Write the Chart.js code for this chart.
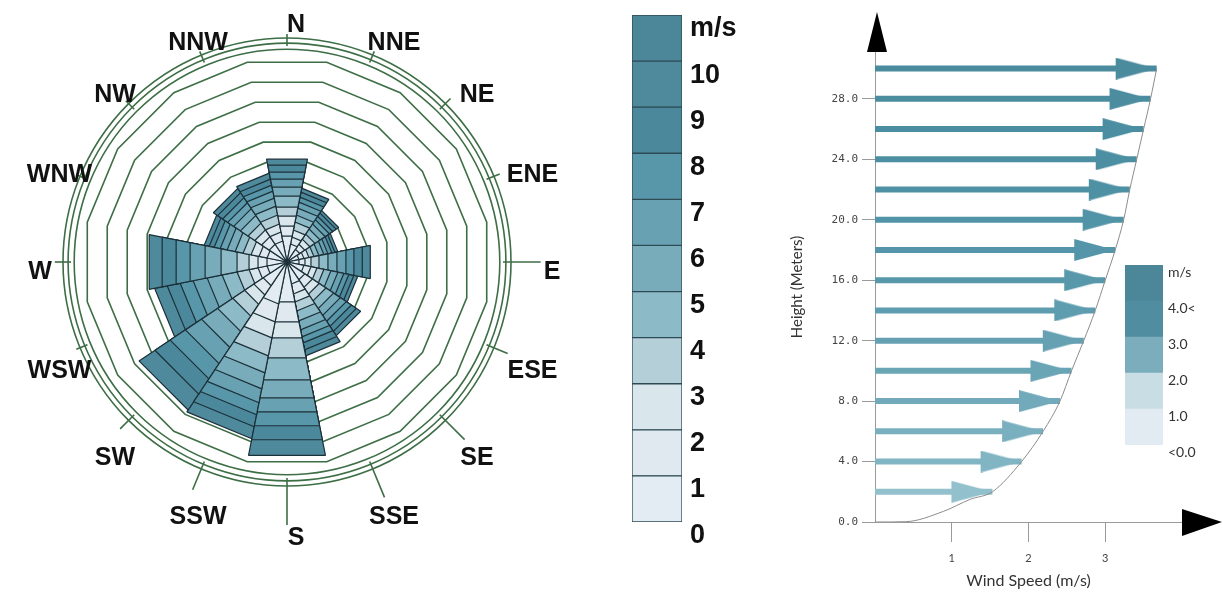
<!DOCTYPE html>
<html>
<head>
<meta charset="utf-8">
<script src="https://cdn.jsdelivr.net/npm/chart.js@4.4.1/dist/chart.umd.min.js"></script>
<style>
  html, body { margin: 0; padding: 0; background: #fff; }
  body { width: 1223px; height: 591px; position: relative; overflow: hidden; }
  canvas { position: absolute; }
  #rose { left: 0; top: 0; }
  #speedScale { left: 632px; top: 0; }
  #profile { left: 760px; top: 0; }
  #profileScale { left: 1125px; top: 250px; }
</style>
</head>
<body>
<canvas id="rose" width="610" height="591"></canvas>
<canvas id="speedScale" width="140" height="591"></canvas>
<canvas id="profile" width="463" height="591"></canvas>
<canvas id="profileScale" width="98" height="225"></canvas>

<script>
// ---------- data ----------
const directions = ['N', 'NNE', 'NE', 'ENE', 'E', 'ESE', 'SE', 'SSE',
                    'S', 'SSW', 'SW', 'WSW', 'W', 'WNW', 'NW', 'NNW'];

// share of each speed band per direction (ring units)
const band0to1  = [1.30, 0.90, 0.75, 0.60, 0.60, 0.85, 1.05, 1.10, 2.00, 2.10, 1.40, 1.00, 1.00, 1.00, 1.05, 1.05];
const band1to2  = [0.50, 0.35, 0.30, 0.25, 0.30, 0.35, 0.45, 0.50, 1.00, 0.90, 0.55, 0.45, 0.45, 0.40, 0.45, 0.45];
const band2to3  = [0.50, 0.35, 0.30, 0.25, 0.30, 0.30, 0.40, 0.40, 0.80, 0.80, 0.55, 0.45, 0.45, 0.40, 0.40, 0.40];
const band3to4  = [0.45, 0.40, 0.30, 0.25, 0.40, 0.35, 0.40, 0.45, 1.00, 0.90, 0.70, 0.60, 0.60, 0.40, 0.40, 0.45];
const band4to5  = [0.55, 0.35, 0.30, 0.25, 0.45, 0.35, 0.45, 0.50, 1.10, 0.85, 0.90, 0.75, 0.80, 0.40, 0.45, 0.45];
const band5to6  = [0.45, 0.35, 0.30, 0.25, 0.45, 0.35, 0.40, 0.45, 0.90, 0.80, 0.95, 0.75, 0.80, 0.40, 0.40, 0.40];
const band6to7  = [0.40, 0.30, 0.25, 0.20, 0.45, 0.30, 0.35, 0.35, 0.70, 0.70, 0.95, 0.70, 0.75, 0.35, 0.35, 0.35];
const band7to8  = [0.35, 0.25, 0.20, 0.20, 0.40, 0.25, 0.30, 0.30, 0.70, 0.60, 0.90, 0.65, 0.70, 0.30, 0.30, 0.30];
const band8to9  = [0.35, 0.25, 0.20, 0.15, 0.42, 0.25, 0.30, 0.35, 0.70, 0.60, 0.90, 0.65, 0.70, 0.25, 0.30, 0.30];
const band9to10 = [0.30, 0.20, 0.15, 0.15, 0.40, 0.20, 0.25, 0.30, 0.78, 0.60, 0.94, 0.63, 0.65, 0.25, 0.25, 0.30];
const speedBands = [band0to1, band1to2, band2to3, band3to4, band4to5,
                    band5to6, band6to7, band7to8, band8to9, band9to10];

const ringValues = [1, 2, 3, 4, 5, 6, 7, 8, 9, 10];
const outerRings = [10.45, 10.75, 11];

const speedScaleTicks = ['0', '1', '2', '3', '4', '5', '6', '7', '8', '9', '10', 'm/s'];
const speedScaleCells = [1, 1, 1, 1, 1, 1, 1, 1, 1, 1, 1];

// wind profile
const heights   = [2, 4, 6, 8, 10, 12, 14, 16, 18, 20, 22, 24, 26, 28, 30];
const tipSpeeds = [1.53, 1.91, 2.19, 2.41, 2.56, 2.72, 2.87, 3.00, 3.13, 3.24, 3.32, 3.41, 3.50, 3.59, 3.67];
const curveSpeeds  = [0, 0.40, 0.89, 1.24, 1.53, 1.91, 2.19, 2.41, 2.56, 2.72, 2.87, 3.00, 3.13, 3.24, 3.32, 3.41, 3.50, 3.59, 3.67];
const curveHeights = [0, 0.02, 0.7, 1.5, 2, 4, 6, 8, 10, 12, 14, 16, 18, 20, 22, 24, 26, 28, 30];
const heightTicks = [0, 4, 8, 12, 16, 20, 24, 28];
const speedTicks = [1, 2, 3];

const profileScaleTicks = ['<0.0', '1.0', '2.0', '3.0', '4.0<', 'm/s'];
const profileScaleCells = [1, 1, 1, 1, 1];

// ---------- styles ----------
const speedColours = ['#e2ecf2', '#dfe9ef', '#d9e6ec', '#b4cfd8', '#8cbac6', '#78acba',
                      '#68a2b2', '#5897a9', '#4c889b', '#4e8a9c', '#4b8799'];
const profileColours = ['#e1ebf1', '#c9dde4', '#7badbd', '#508da0', '#4b8799'];
const arrowColours = ['#92c0cc', '#82b5c3', '#79afbf', '#72aabb', '#6aa5b6', '#65a1b2', '#5e9caf',
                      '#5898ab', '#5595a9', '#5193a7', '#4f91a4', '#4d8fa2', '#4c8ea1', '#4b8d9f', '#4a8b9e'];
const ringGreen = '#3d6e45';

Chart.defaults.animation = false;
Chart.defaults.font.family = 'Lato, "Liberation Sans", sans-serif';
Chart.defaults.plugins.legend.display = false;
Chart.defaults.plugins.tooltip.enabled = false;

// ---------- wind rose ----------
// each dataset is drawn from the centre, so stack them by summing the bands
const cumulative = [];
speedBands.forEach((band, k) => {
    cumulative.push(band.map((v, i) => (k > 0 ? cumulative[k - 1][i] : 0) + v));
});

const roseLabels = {
    id: 'roseLabels',
    afterDatasetsDraw(chart) {
        const s = chart.scales.r;
        const ctx = chart.ctx;
        const R = s.drawingArea;
        ctx.save();
        ctx.font = 'bold 25px "Liberation Sans", Arial, sans-serif';
        ctx.textAlign = 'center';
        ctx.textBaseline = 'middle';
        ctx.fillStyle = '#111';
        ctx.strokeStyle = ringGreen;
        ctx.lineWidth = 1.6;
        directions.forEach((d, i) => {
            const a = s.getIndexAngle(i) + Math.PI / 16;   // centre of the wedge
            const dx = Math.sin(a), dy = -Math.cos(a);
            // labels hang below the anchor on the lower half, sit above it on the upper half
            const lx = s.xCenter + 9 + dx * 256;
            const ly = s.yCenter + 9 + dy * 256.5 + dy * dy * 9.5;
            const back = Math.abs(dx) * ctx.measureText(d).width / 2 + Math.abs(dy) * 9 + 3;
            // radial tick that stops just short of the label
            const end = Math.max(R + 4, (lx - s.xCenter) * dx + (ly - s.yCenter) * dy - back);
            ctx.beginPath();
            ctx.moveTo(s.xCenter + dx * (R - 8), s.yCenter + dy * (R - 8));
            ctx.lineTo(s.xCenter + dx * end, s.yCenter + dy * end);
            ctx.stroke();
            ctx.fillText(d, lx, ly + 1);
        });
        ctx.restore();
    }
};

new Chart(document.getElementById('rose'), {
    type: 'polarArea',
    data: {
        labels: directions,
        datasets: cumulative.map((vals, k) => ({
            data: vals,
            rAxisID: 'r',
            backgroundColor: speedColours[k],
            borderColor: '#1c3039',
            borderWidth: 1.2,
            circular: false
        }))
    },
    options: {
        responsive: false,
        layout: { padding: { left: 63, right: 99, top: 38, bottom: 105 } },
        elements: { arc: { circular: false } },
        scales: {
            r: {
                min: 0, max: 11, startAngle: -11.25,
                ticks: { display: false, stepSize: 1 },
                pointLabels: { display: false },
                angleLines: { display: false },
                grid: { circular: false, color: ringGreen, lineWidth: 1.6 },
                afterBuildTicks: s => { s.ticks = [0, ...ringValues].map(v => ({ value: v })); }
            },
            r2: {
                type: 'radialLinear', axis: 'r',
                min: 0, max: 11,
                ticks: { display: false },
                pointLabels: { display: false },
                angleLines: { display: false },
                grid: { circular: true, color: ringGreen, lineWidth: 1.6 },
                afterBuildTicks: s => { s.ticks = [0, ...outerRings].map(v => ({ value: v })); }
            }
        }
    },
    plugins: [roseLabels]
});

// ---------- colour keys ----------
function colourKey(id, cells, labels, colours, o) {
    return new Chart(document.getElementById(id), {
        type: 'bar',
        data: {
            labels: [''],
            datasets: cells.map((v, i) => ({
                data: [v],
                backgroundColor: colours[i],
                borderColor: o.border,
                borderWidth: o.borderWidth,
                borderSkipped: false,
                barPercentage: 1,
                categoryPercentage: 1
            }))
        },
        options: {
            responsive: false,
            layout: { padding: { top: o.top, bottom: o.bottom } },
            scales: {
                x: { display: false, stacked: true },
                y: {
                    stacked: true, position: 'right',
                    min: 0, max: labels.length - 1,
                    // fixed width, and no extra room reserved for the end labels
                    afterFit: s => { s.width = o.axisWidth; s.paddingTop = 0; s.paddingBottom = 0; },
                    grid: { display: false, drawTicks: false },
                    border: { display: false },
                    ticks: {
                        stepSize: 1, autoSkip: false,
                        padding: o.pad, labelOffset: o.offset,
                        color: o.colour, font: o.font,
                        callback: v => labels[v]
                    }
                }
            }
        }
    });
}

colourKey('speedScale', speedScaleCells, speedScaleTicks, speedColours, {
    border: '#2d4a55', borderWidth: 1, top: 15, bottom: 69, axisWidth: 90,
    pad: 8, offset: 14, colour: '#111',
    font: { family: '"Liberation Sans", Arial, sans-serif', size: 27, weight: 'bold' }
});

colourKey('profileScale', profileScaleCells, profileScaleTicks, profileColours, {
    border: 'rgba(0,0,0,0)', borderWidth: 0, top: 15, bottom: 30, axisWidth: 60,
    pad: 5, offset: 7, colour: '#333',
    font: { size: 14 }
});

// ---------- wind profile ----------
function arrowHead(colour) {
    // tip sits in the middle of the canvas, so it lands on the data point
    const c = document.createElement('canvas');
    c.width = 84; c.height = 22;
    const g = c.getContext('2d');
    g.fillStyle = colour;
    g.beginPath();
    g.moveTo(1, 0); g.lineTo(42, 11); g.lineTo(1, 22);
    g.closePath(); g.fill();
    return c;
}

const axisArrows = {
    id: 'axisArrows',
    afterDraw(chart) {
        const { ctx, chartArea: a } = chart;
        ctx.save();
        ctx.fillStyle = '#000';
        ctx.beginPath();
        ctx.moveTo(a.left - 8, a.top); ctx.lineTo(a.left + 12, a.top); ctx.lineTo(a.left + 2, a.top - 40);
        ctx.fill();
        ctx.beginPath();
        ctx.moveTo(a.right, a.bottom - 13); ctx.lineTo(a.right, a.bottom + 14); ctx.lineTo(a.right + 40, a.bottom);
        ctx.fill();
        ctx.restore();
    }
};

const arrowSets = heights.map((h, i) => ({
    data: [{ x: 0, y: h }, { x: tipSpeeds[i], y: h }],
    showLine: true,
    borderColor: arrowColours[i],
    borderWidth: 6,
    borderCapStyle: 'butt',
    pointRadius: [0, 1],
    pointHoverRadius: 0,
    pointStyle: ['circle', arrowHead(arrowColours[i])]
}));

const curveSet = {
    data: curveSpeeds.map((x, i) => ({ x, y: curveHeights[i] })),
    showLine: true,
    borderColor: '#8c8c8c',
    borderWidth: 1,
    pointRadius: 0,
    cubicInterpolationMode: 'monotone'
};

new Chart(document.getElementById('profile'), {
    type: 'scatter',
    data: { datasets: [curveSet, ...arrowSets] },
    options: {
        responsive: false,
        layout: { padding: { top: 52, right: 41 } },
        scales: {
            x: {
                min: 0, max: 4,
                afterBuildTicks: s => { s.ticks = speedTicks.map(v => ({ value: v })); },
                afterFit: s => { s.height = 69; },
                grid: { drawOnChartArea: false, tickLength: 20, color: '#9a9a9a' },
                border: { color: '#9a9a9a' },
                ticks: { padding: 10, color: '#444', font: { size: 11 } },
                title: { display: true, text: 'Wind Speed (m/s)', color: '#333', font: { size: 16 }, padding: { top: 0, bottom: 1 } }
            },
            y: {
                min: 0, max: 31.1,
                afterBuildTicks: s => { s.ticks = heightTicks.map(v => ({ value: v })); },
                afterFit: s => { s.width = 115; },
                grid: { drawOnChartArea: false, tickLength: 13, color: '#9a9a9a' },
                border: { color: '#9a9a9a' },
                ticks: { padding: 4, color: '#444', font: { family: '"DejaVu Sans Mono", monospace', size: 11 }, callback: v => v.toFixed(1) },
                title: { display: true, text: 'Height (Meters)', color: '#333', font: { size: 15 }, padding: { top: 28, bottom: 0 } }
            }
        }
    },
    plugins: [axisArrows]
});
</script>
</body>
</html>
